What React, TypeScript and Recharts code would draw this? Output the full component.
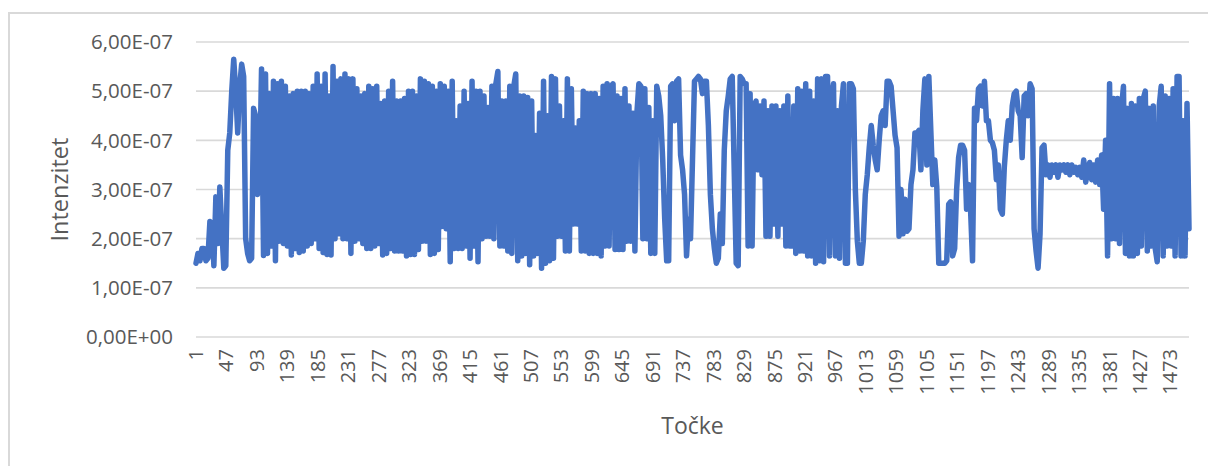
import { CartesianGrid, Line, LineChart, XAxis, YAxis } from "recharts";

// intensity values in units of 1e-7, one reading every 3rd point
const odsjek1 = [1.5, 1.7, 1.55, 1.8, 1.8, 1.55, 1.6, 2.35, 2.3, 1.45, 2.85, 1.9, 3.05, 2.2, 1.4, 1.45, 3.8, 4.15, 5.0, 5.65, 5.0, 4.15, 5.1, 5.55, 5.3, 2.0, 1.7, 1.55, 1.6, 4.65, 4.5, 2.9, 3.2, 5.45, 1.66, 5.35, 1.7, 4.95, 1.85, 5.2, 1.55, 5.15, 1.95, 5.2, 1.9, 5.1, 1.85, 4.9, 1.67, 4.95];
const odsjek2 = [1.8, 5.0, 1.72, 5.0, 1.75, 5.0, 1.85, 4.95, 1.9, 5.1, 2.0, 5.35, 1.8, 5.1, 1.72, 5.35, 1.68, 4.9, 1.67, 5.5, 2.0, 5.2, 2.1, 5.25, 2.0, 5.35, 2.0, 5.25, 1.7, 5.25, 1.95, 5.05, 2.0, 4.9, 1.9, 4.95, 1.8, 5.1, 1.8, 5.05, 1.85, 5.1, 1.9, 4.75, 1.67, 4.8, 1.7, 5.0, 1.8, 5.2];
const odsjek3 = [1.75, 4.8, 1.75, 4.8, 1.75, 4.85, 1.65, 5.0, 1.68, 5.0, 1.68, 4.9, 1.78, 5.25, 1.95, 5.2, 1.95, 5.15, 1.68, 5.1, 1.7, 5.0, 1.78, 5.15, 2.25, 5.1, 2.2, 5.0, 1.53, 5.2, 1.8, 4.4, 1.8, 4.7, 1.8, 5.0, 1.85, 4.75, 1.6, 5.2, 1.85, 5.0, 1.53, 5.0, 2.0, 4.9, 2.05, 4.67, 2.05, 5.1];
const odsjek4 = [2.0, 5.15, 5.4, 1.85, 4.8, 1.85, 4.8, 1.75, 5.1, 1.7, 5.1, 5.35, 1.55, 4.9, 1.65, 4.9, 1.7, 4.87, 1.47, 4.8, 1.65, 4.1, 1.7, 4.55, 1.4, 5.2, 1.5, 4.5, 1.55, 5.3, 1.6, 5.25, 2.05, 4.7, 2.05, 4.4, 1.75, 5.25, 1.75, 5.05, 2.3, 4.25, 2.3, 4.4, 1.75, 5.0, 1.75, 4.95, 1.7, 4.95];
const odsjek5 = [1.7, 4.95, 1.7, 4.85, 1.65, 5.1, 1.85, 5.15, 1.85, 5.1, 5.15, 1.78, 4.9, 1.78, 4.85, 1.78, 5.05, 1.95, 4.7, 1.95, 4.55, 1.75, 4.55, 5.15, 5.1, 2.0, 5.05, 2.0, 4.67, 1.7, 4.4, 1.7, 5.1, 4.9, 4.5, 3.6, 2.4, 1.55, 1.55, 5.1, 5.15, 4.4, 5.2, 5.25, 3.7, 3.4, 2.9, 1.65, 2.4, 2.0];
const odsjek6 = [3.6, 5.2, 5.25, 5.3, 5.25, 4.95, 5.2, 5.2, 4.3, 2.9, 2.2, 1.8, 1.5, 1.6, 2.5, 1.9, 3.8, 4.6, 4.9, 5.25, 5.3, 3.4, 1.5, 1.45, 5.3, 5.25, 5.15, 5.15, 1.85, 4.95, 1.85, 4.7, 4.8, 3.4, 4.7, 3.3, 4.8, 2.05, 4.6, 2.05, 4.7, 2.3, 4.7, 2.05, 4.6, 2.3, 4.7, 1.85, 4.9, 1.85];
const odsjek7 = [1.85, 4.7, 1.7, 5.05, 1.75, 5.0, 1.75, 5.15, 1.65, 5.0, 1.65, 4.8, 1.5, 5.25, 1.55, 5.25, 1.53, 5.3, 5.3, 1.65, 4.9, 5.15, 1.65, 4.6, 1.6, 4.7, 5.15, 1.5, 1.5, 5.15, 5.15, 5.05, 3.0, 1.95, 1.5, 1.5, 1.95, 2.9, 3.3, 3.85, 4.3, 3.9, 3.6, 3.4, 4.0, 4.5, 4.6, 4.3, 5.2, 5.2];
const odsjek8 = [5.1, 4.6, 4.1, 3.85, 2.05, 3.0, 2.1, 2.8, 2.15, 2.2, 3.1, 3.4, 4.15, 4.15, 4.2, 3.4, 4.6, 5.25, 3.5, 5.3, 4.2, 3.1, 3.6, 3.05, 1.5, 1.5, 1.5, 1.5, 1.55, 2.7, 2.75, 1.65, 1.8, 3.0, 3.65, 3.9, 3.9, 3.8, 2.6, 3.1, 2.6, 1.55, 4.65, 4.4, 5.05, 5.1, 4.7, 5.2, 4.4, 4.4];
const odsjek9 = [4.0, 3.95, 3.8, 3.2, 3.5, 2.6, 2.5, 3.45, 4.0, 4.4, 4.0, 4.7, 4.95, 5.0, 4.6, 4.5, 3.65, 4.9, 4.95, 4.5, 5.15, 5.05, 2.2, 1.75, 1.4, 2.1, 3.85, 3.9, 3.3, 3.5, 3.25, 3.5, 3.35, 3.5, 3.25, 3.5, 3.4, 3.5, 3.35, 3.5, 3.3, 3.5, 3.35, 3.45, 3.3, 3.45, 3.25, 3.6, 3.15, 3.4];
const odsjek10 = [3.55, 3.2, 3.5, 3.15, 3.6, 3.1, 3.7, 2.6, 4.0, 1.65, 5.15, 2.0, 4.85, 2.0, 4.85, 1.9, 4.65, 5.1, 1.7, 4.65, 1.65, 4.75, 1.65, 4.7, 1.7, 4.85, 1.85, 4.85, 5.0, 1.75, 4.65, 1.85, 4.7, 1.8, 1.53, 4.7, 5.1, 1.65, 4.9, 1.85, 4.85, 1.85, 5.05, 1.65, 5.3, 5.3, 1.65, 4.4, 1.65, 4.75, 2.2];

const intenzitet = [...odsjek1, ...odsjek2, ...odsjek3, ...odsjek4, ...odsjek5, ...odsjek6, ...odsjek7, ...odsjek8, ...odsjek9, ...odsjek10];
const data = intenzitet.map((value, i) => ({ tocka: 1 + i * 3, value }));

const xTicks = [1, 47, 93, 139, 185, 231, 277, 323, 369, 415, 461, 507, 553, 599, 645, 691, 737, 783, 829, 875, 921, 967, 1013, 1059, 1105, 1151, 1197, 1243, 1289, 1335, 1381, 1427, 1473];
const yTicks = [0, 1, 2, 3, 4, 5, 6];

const font = "'Open Sans', sans-serif";
const textColor = "#595959";

function XTick({ x, y, payload }: any) {
  return (
    <text transform={`translate(${x + 7},${y}) rotate(-90)`} textAnchor="end" fill={textColor} fontSize={20} fontFamily={font}>
      {payload.value}
    </text>
  );
}

export default function App() {
  return (
    <div style={{ position: "absolute", left: 0, top: 0, width: 1208, height: 466, background: "#fff", overflow: "hidden" }}>
      <div style={{ position: "absolute", left: 8, top: 12, width: 1200, height: 454, borderLeft: "2px solid #d9d9d9", borderTop: "2px solid #d9d9d9", boxSizing: "border-box" }} />
      <div style={{ position: "absolute", left: 0, top: 0 }}>
        <LineChart width={1208} height={466} data={data} margin={{ top: 42, right: 19, bottom: 0, left: 0 }}>
          <CartesianGrid vertical={false} stroke="#d9d9d9" strokeWidth={1.7} />
          <XAxis
            dataKey="tocka"
            type="number"
            domain={[1, 1501]}
            ticks={xTicks}
            interval={0}
            height={129}
            axisLine={false}
            tickLine={false}
            tick={<XTick />}
            tickMargin={6}
            label={{ value: "Točke", position: "insideBottom", offset: 32, fill: textColor, fontSize: 23, fontFamily: font }}
          />
          <YAxis
            type="number"
            domain={[0, 6]}
            ticks={yTicks}
            width={196}
            axisLine={false}
            tickLine={false}
            tickMargin={17}
            tickFormatter={(v) => (v === 0 ? "0,00E+00" : `${v},00E-07`)}
            tick={{ fill: textColor, fontSize: 20.5, fontFamily: font }}
            label={{ value: "Intenzitet", angle: -90, position: "insideLeft", offset: 60, fill: textColor, fontSize: 23.5, fontFamily: font, dy: 52 }}
          />
          <Line dataKey="value" type="linear" stroke="#4472c4" strokeWidth={5.5} strokeLinejoin="round" strokeLinecap="round" dot={false} isAnimationActive={false} />
        </LineChart>
      </div>
    </div>
  );
}
